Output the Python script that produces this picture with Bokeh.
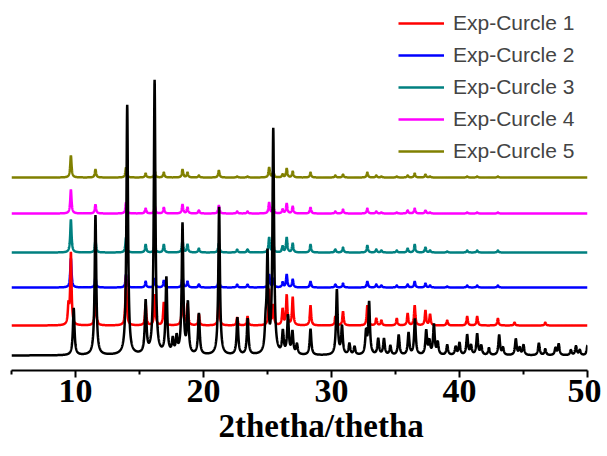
import numpy as np
from bokeh.plotting import figure
from bokeh.models import Legend, LegendItem, FixedTicker, Range1d, Title
from bokeh.embed import file_html
from bokeh.resources import INLINE

# ---------------- data ----------------
x_min, x_max = 5, 50
major_ticks = [10, 20, 30, 40, 50]
minor_ticks = [5, 15, 25, 35, 45]
x_label = "2thetha/thetha"

# simulated (black) pattern: peak positions (2theta) and heights
sim_pos = [9.86, 11.56, 14.04, 15.48, 16.18, 17.1, 17.6, 17.9, 18.36, 18.78, 19.64,
           21.22, 22.65, 23.45, 24.85, 25.0, 25.45, 26.2, 26.6, 26.95, 27.3, 28.36,
           30.42, 30.82, 31.4, 31.8, 32.7, 32.94, 33.65, 34.1, 34.6, 35.25, 36.02,
           36.52, 37.4, 37.65, 38.0, 38.3, 39.04, 39.7, 40.0, 40.6, 40.9, 41.38,
           41.7, 42.3, 43.1, 43.4, 44.4, 44.7, 45.0, 46.2, 46.7, 47.5, 47.75, 48.7,
           49.1, 49.4, 50.0]
sim_int = [47, 140, 250, 52, 274, 76, 14, 16, 130, 50, 41,
           148, 37, 36, 22, 96, 224, 22, 38, 22, 10, 26,
           65, 28, 11, 8, 22, 52, 16, 16, 9, 20, 22,
           36, 24, 13, 30, 12, 10, 8, 12, 20, 9, 21,
           9, 7, 20, 7, 16, 7, 10, 12, 6, 7, 11, 5,
           9, 5, 10]

# experimental patterns: common peak positions and heights per cycle
exp_pos = [9.45, 9.64, 11.56, 13.95, 15.48, 16.2, 16.9, 18.36, 18.75, 19.64, 21.2,
           22.63, 23.44, 25.13, 25.45, 26.18, 26.5, 26.97, 28.36, 30.3, 30.9,
           32.8, 33.5, 33.9, 35.1, 35.95, 36.5, 37.34, 37.7, 39.04, 40.6, 41.38,
           43.0, 44.3, 46.7]
exp1_int = [18, 72, 36, 50, 21, 31, 23, 36, 21, 11, 31,
            8, 9, 36, 20, 16, 30, 28, 20, 9, 14,
            20, 7, 5, 7, 12, 20, 15, 11, 5, 9, 9,
            7, 3, 3]
exp2_int = [0, 29, 10, 13, 6, 9, 7, 10, 6, 3, 9,
            3, 3, 13, 9, 5, 13, 8, 6, 3, 4,
            6, 3, 2, 2, 3, 6, 4, 2, 1, 2, 2,
            2, 0, 0]
exp3_int = [0, 33, 12, 15, 8, 10, 8, 12, 8, 4, 9,
            3, 3, 15, 9, 6, 15, 9, 8, 3, 5,
            7, 3, 2, 2, 4, 8, 5, 2, 1, 2, 2,
            2, 0, 0]
exp4_int = [0, 24, 9, 11, 5, 7, 6, 9, 6, 3, 8,
            2, 2, 11, 7, 4, 10, 7, 6, 2, 4,
            5, 2, 1, 1, 3, 5, 3, 1, 0, 1, 1,
            1, 0, 0]
exp5_int = [0, 22, 8, 10, 4, 6, 5, 8, 5, 2, 7,
            1, 1, 10, 6, 3, 9, 6, 5, 2, 3,
            5, 2, 1, 1, 2, 4, 3, 1, 0, 1, 1,
            1, 0, 0]

series_names = ["Exp-Curcle 1", "Exp-Curcle 2", "Exp-Curcle 3", "Exp-Curcle 4", "Exp-Curcle 5"]
series_ints = [exp1_int, exp2_int, exp3_int, exp4_int, exp5_int]
stack_offset = [15, 45, 83, 118, 157, 193]   # black, then cycles 1..5

# ---------------- styling ----------------
series_colors = ["#FF0000", "#0000FF", "#008080", "#FF00FF", "#808000"]
sim_color = "#000000"

grid = np.linspace(x_min, x_max, 4501)


def profile(pos, hts, gamma):
    y = np.zeros_like(grid)
    for c, h in zip(pos, hts):
        y += h / (1.0 + ((grid - c) / gamma) ** 2)
    return y


p = figure(frame_width=576, frame_height=362, output_backend="svg",
           toolbar_location=None, x_range=Range1d(x_min, x_max),
           y_range=Range1d(0, 362), min_border_left=11, min_border_right=14,
           min_border_top=8, min_border_bottom=0)
p.outline_line_color = None
p.grid.visible = False
p.yaxis.visible = False
p.background_fill_color = "white"

renderers = {}
for i in reversed(range(5)):
    r = p.line(grid, stack_offset[i + 1] + profile(exp_pos, series_ints[i], 0.06),
               line_color=series_colors[i], line_width=2.5)
    renderers[i] = r

# simulated pattern drawn on top
p.line(grid, stack_offset[0] + profile(sim_pos, sim_int, 0.075),
       line_color=sim_color, line_width=2.5)

legend = Legend(items=[LegendItem(label=series_names[i], renderers=[renderers[i]]) for i in range(5)],
                location=(387, 207), margin=0, padding=0, spacing=8,
                glyph_width=46, glyph_height=20, label_height=20, label_standoff=9,
                label_text_font="Liberation Sans", label_text_font_size="21px",
                border_line_alpha=0, background_fill_alpha=0)
p.add_layout(legend)

ax = p.xaxis[0]
ax.ticker = FixedTicker(ticks=major_ticks, minor_ticks=minor_ticks)
ax.axis_line_width = 2
ax.major_tick_line_width = 2
ax.minor_tick_line_width = 2
ax.major_tick_out = 7
ax.major_tick_in = 0
ax.minor_tick_out = 4
ax.minor_tick_in = 0
ax.major_label_text_font = "Liberation Serif"
ax.major_label_text_font_style = "bold"
ax.major_label_text_font_size = "34px"
ax.major_label_text_color = "black"
ax.major_label_standoff = 2

xtitle = Title(text=x_label, align="left", offset=207, standoff=2,
               text_font="Liberation Serif", text_font_style="bold",
               text_font_size="33px", text_color="black")
p.add_layout(xtitle, "below")

open("out.html", "w").write(file_html(p, INLINE))
